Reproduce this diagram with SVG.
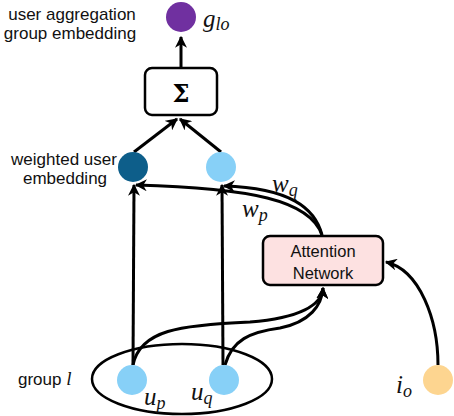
<svg xmlns="http://www.w3.org/2000/svg" width="454" height="416" viewBox="0 0 454 416">
<defs>
<marker id="ah" viewBox="0 0 10 10" refX="9" refY="5" markerWidth="4" markerHeight="4" orient="auto-start-reverse">
<path d="M0,0 L10,5 L0,10 L3,5 z" fill="#000"/>
</marker>
</defs>
<style>
.lbl{font-family:"Liberation Sans",Arial,sans-serif;font-size:17px;fill:#111}
.math{font-family:"Liberation Serif","Times New Roman",serif;font-style:italic;font-size:25px;fill:#111}
.sub{font-size:18px}
.edge{fill:none;stroke:#000;stroke-width:3;marker-end:url(#ah)}
.box{stroke:#000;stroke-width:2.5}
</style>
<rect width="454" height="416" fill="#fff"/>
<g id="connectors">
<path class="edge" d="M181,68 L181,37"/>
<path class="edge" d="M134,152 L177,119"/>
<path class="edge" d="M221,152 L180,119"/>
<path class="edge" d="M133,365 L134,185"/>
<path class="edge" d="M223,365 L222,185"/>
<path class="edge" d="M322,235 C310,200 250,188 136,185"/>
<path class="edge" d="M322,235 C315,208 290,188 224,186"/>
<path class="edge" d="M133,365 C140,330 180,325 250,322 C300,318 322,305 323,288"/>
<path class="edge" d="M225,365 C232,340 250,332 280,328 C310,322 322,305 323,288"/>
<path class="edge" d="M438,365 C438,320 420,270 386,262"/>
</g>
<g id="label-user-agg">
<text class="lbl" x="72" y="20" text-anchor="middle">user aggregation</text>
<text class="lbl" x="70" y="39" text-anchor="middle">group embedding</text>
</g>
<g id="node-glo">
<circle cx="181" cy="17" r="15" fill="#7030a0"/>
<text class="math" x="203" y="27">g<tspan class="sub" dy="3">lo</tspan></text>
</g>
<g id="node-sum">
<rect class="box" x="145" y="68" width="72" height="47" rx="7" fill="#fff"/>
<text x="181" y="102" text-anchor="middle" style="font-family:'DejaVu Serif','Liberation Serif',serif;font-weight:bold;font-size:24px">Σ</text>
</g>
<g id="label-weighted">
<text class="lbl" x="64" y="165" text-anchor="middle">weighted user</text>
<text class="lbl" x="65" y="184" text-anchor="middle">embedding</text>
</g>
<g id="node-wp">
<circle cx="133" cy="167" r="15" fill="#0d5e8a"/>
</g>
<g id="node-wq">
<circle cx="221" cy="167" r="15" fill="#87d0f7"/>
</g>
<g id="label-w">
<text class="math" x="272" y="192">w<tspan class="sub" dy="4">q</tspan></text>
<text class="math" x="242" y="217">w<tspan class="sub" dy="4">p</tspan></text>
</g>
<g id="node-attention">
<rect class="box" x="263" y="236" width="120" height="49" rx="7" fill="#fde1e1"/>
<text class="lbl" x="323" y="257" text-anchor="middle" style="font-size:16.5px">Attention</text>
<text class="lbl" x="323" y="279" text-anchor="middle" style="font-size:16.5px">Network</text>
</g>
<g id="group-l">
<ellipse cx="182" cy="379" rx="90" ry="35" fill="none" stroke="#000" stroke-width="2.5"/>
<text class="lbl" x="18" y="385">group <tspan style="font-family:'Liberation Serif',serif;font-style:italic;font-size:19px">l</tspan></text>
</g>
<g id="node-up">
<circle cx="132" cy="380" r="15" fill="#87d0f7"/>
<text class="math" x="144" y="405">u<tspan class="sub" dy="4">p</tspan></text>
</g>
<g id="node-uq">
<circle cx="224" cy="380" r="15" fill="#87d0f7"/>
<text class="math" x="191" y="400">u<tspan class="sub" dy="4">q</tspan></text>
</g>
<g id="node-io">
<circle cx="438" cy="380" r="15" fill="#fdd590"/>
<text class="math" x="396" y="393">i<tspan class="sub" dy="4">o</tspan></text>
</g>
</svg>
